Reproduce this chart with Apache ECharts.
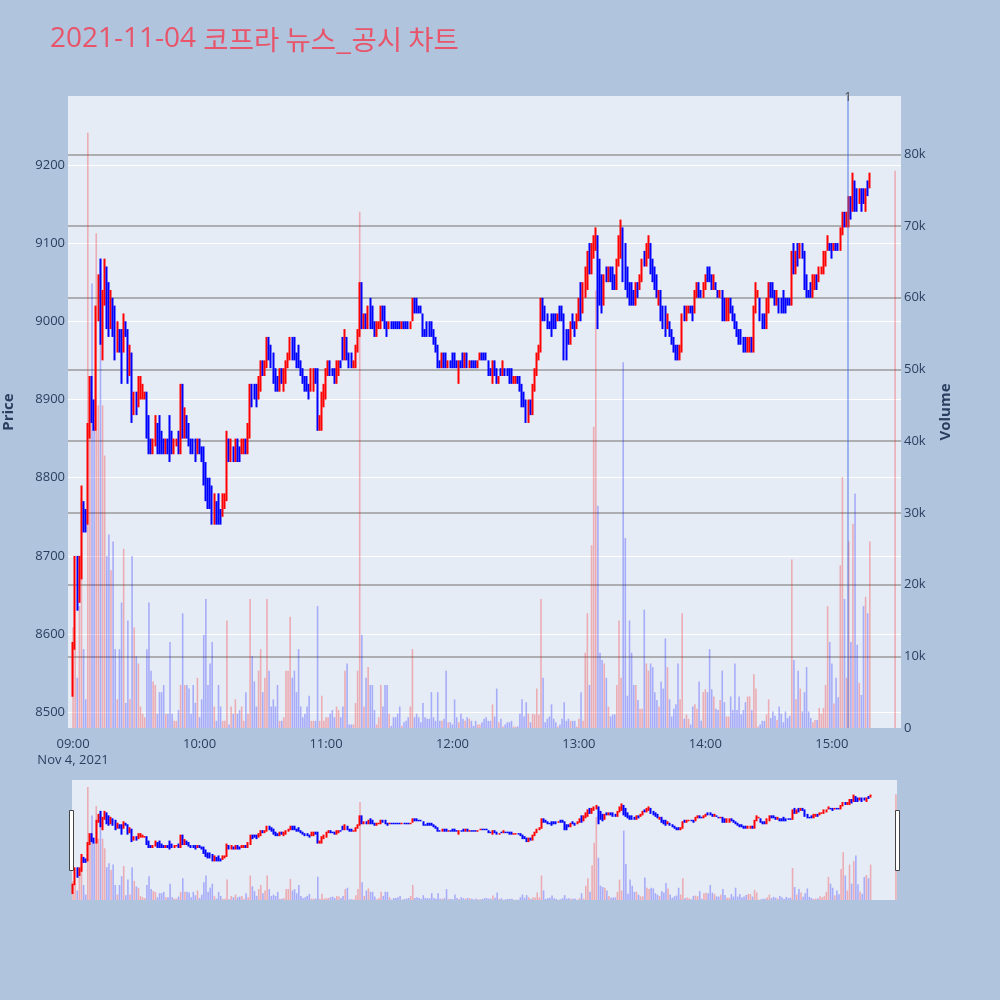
<!DOCTYPE html>
<html><head><meta charset="utf-8">
<script src="https://cdn.jsdelivr.net/npm/echarts@6/dist/echarts.min.js"></script>
<style>html,body{margin:0;padding:0;background:#b0c4de;}#chart{width:1000px;height:1000px;}</style>
</head><body><div id="chart"></div>
<script>
// ---------- DATA ----------
const titleDate = '2021-11-04 ';
const titleName = '코프라 뉴스_공시 차트';
const dateLabel = 'Nov 4, 2021';
const closingAuctionTime = '15:30';
const xTickLabels = ['09:00','10:00','11:00','12:00','13:00','14:00','15:00'];
const priceTicks = [8500,8600,8700,8800,8900,9000,9100,9200];
const volumeTicks = [0,10000,20000,30000,40000,50000,60000,70000,80000];
const newsTimes = ['15:07:40'];
const newsLabels = ['1'];

// one candle per minute from 09:00 (last entry = 15:30 closing auction)
const opens = [
8520,8590,8680,8640,8690,8760,8750,8740,8860,8920,
8890,8870,9010,9060,8980,9030,9070,9040,8990,9030,
9010,8960,8990,8980,8970,9000,8990,8940,8960,8880,
8910,8890,8910,8910,8900,8910,8870,8840,8830,8850,
8860,8860,8850,8840,8830,8840,8870,8850,8840,8840,
8850,8840,8910,8860,8880,8870,8850,8850,8840,8830,
8850,8840,8830,8810,8790,8790,8780,8750,8770,8770,
8760,8750,8770,8780,8850,8830,8840,8830,8850,8840,
8830,8840,8840,8840,8860,8920,8910,8910,8900,8920,
8940,8930,8950,8980,8970,8960,8940,8930,8920,8940,
8920,8930,8950,8960,8980,8970,8960,8970,8950,8940,
8930,8930,8920,8910,8920,8940,8940,8860,8870,8900,
8910,8930,8940,8940,8930,8920,8940,8950,8970,8960,
8980,8960,8950,8940,8950,8970,8990,9050,8990,9010,
8990,9030,9010,9000,8980,8990,9000,9020,9010,9000,
8990,9000,9000,9000,9000,9000,8990,9000,9000,9000,
8990,9000,9030,9030,9020,9020,9010,8990,9000,9000,
9000,8990,8980,8970,8950,8950,8960,8960,8940,8950,
8950,8960,8950,8930,8950,8960,8940,8960,8940,8950,
8950,8950,8940,8950,8960,8960,8960,8950,8940,8930,
8950,8940,8920,8940,8930,8940,8940,8940,8940,8920,
8920,8930,8930,8920,8910,8900,8880,8900,8890,8920,
8930,8950,8970,9030,9010,9010,9000,9000,9000,9010,
9000,9020,9020,9010,8960,8990,8980,9000,9000,8990,
9000,9030,9010,9040,9050,9080,9070,9090,9100,9110,
9060,9050,9030,9070,9050,9070,9070,9060,9050,9080,
9090,9120,9090,9060,9050,9040,9040,9020,9040,9040,
9060,9090,9070,9090,9100,9080,9070,9050,9030,9040,
9020,9010,8990,9000,8990,8980,8970,8970,8950,8960,
9010,9000,9010,9020,9020,9010,9030,9050,9040,9030,
9050,9060,9070,9060,9040,9050,9040,9030,9040,9020,
9000,9010,9030,9020,9010,9000,8990,8990,8980,8980,
8960,8960,8980,8970,9010,9030,9030,9010,9010,9000,
9020,9050,9040,9040,9020,9030,9020,9040,9020,9030,
9030,9030,9100,9070,9100,9080,9100,9090,9050,9040,
9040,9030,9050,9060,9050,9060,9070,9080,9090,9100,
9100,9090,9100,9100,9100,9110,9140,9120,9120,9160,
9150,9180,9170,9150,9170,9170,9140,9180,9170,
9190];
const closes = [
8590,8680,8640,8690,8760,8740,8740,8860,8920,8880,
8870,9010,9060,8980,9030,9070,9000,8990,9030,8990,
8960,8990,8970,8920,9000,8990,8930,8960,8880,8910,
8890,8920,8930,8920,8910,8860,8840,8830,8850,8880,
8850,8840,8830,8830,8850,8830,8830,8840,8850,8850,
8830,8920,8860,8880,8860,8850,8840,8830,8830,8850,
8840,8820,8800,8780,8770,8770,8750,8770,8750,8740,
8750,8770,8780,8860,8830,8840,8830,8850,8830,8820,
8840,8850,8830,8860,8920,8900,8900,8900,8920,8950,
8930,8950,8980,8960,8950,8930,8920,8920,8940,8930,
8940,8950,8960,8980,8960,8950,8950,8940,8930,8920,
8920,8910,8910,8930,8940,8930,8870,8870,8900,8920,
8940,8950,8930,8930,8920,8940,8950,8940,8960,8990,
8960,8950,8940,8950,8970,8990,9040,8990,9010,8990,
9020,9000,8990,8980,8990,9000,9020,9010,8990,8990,
9000,8990,8990,8990,8990,8990,9000,8990,8990,8990,
9000,9030,9020,9010,9010,9010,8980,8980,8990,8990,
8980,8980,8970,8940,8940,8960,8950,8940,8950,8940,
8940,8940,8940,8950,8940,8940,8960,8940,8950,8940,
8940,8940,8950,8960,8950,8950,8950,8940,8930,8950,
8930,8920,8930,8930,8950,8930,8930,8930,8930,8930,
8930,8920,8910,8900,8890,8880,8900,8890,8920,8940,
8950,8970,9030,9010,9000,9000,8990,8990,8990,9000,
9010,9010,9010,8950,8950,8980,9000,8990,8990,9000,
9020,9010,9040,9060,9090,9070,9100,9110,9110,9030,
9040,9030,9060,9050,9070,9060,9050,9040,9080,9100,
9110,9060,9040,9040,9030,9020,9020,9040,9030,9060,
9080,9070,9090,9100,9070,9060,9050,9040,9040,9010,
9000,8990,9010,8980,8980,8970,8960,8950,8960,9000,
9000,9010,9020,9010,9010,9030,9050,9030,9030,9050,
9060,9050,9050,9050,9050,9040,9030,9040,9000,9000,
9020,9030,9010,9010,8990,8990,8980,8970,8960,8960,
8980,8980,8970,9020,9040,9040,9010,9000,8990,9020,
9050,9040,9030,9030,9030,9010,9010,9010,9010,9020,
9020,9090,9060,9090,9080,9100,9080,9050,9030,9030,
9030,9050,9060,9050,9070,9070,9080,9090,9110,9090,
9090,9100,9090,9090,9120,9140,9120,9130,9160,9140,
9180,9150,9150,9170,9150,9150,9170,9160,9180,
9190];
const lows = [
8520,8580,8630,8640,8670,8730,8730,8740,8850,8870,
8860,8860,9000,8970,8950,9020,8990,8980,8990,8980,
8950,8960,8960,8920,8960,8980,8920,8930,8870,8880,
8880,8890,8900,8900,8900,8850,8830,8830,8830,8840,
8830,8830,8830,8830,8830,8830,8820,8830,8830,8840,
8830,8830,8850,8850,8850,8840,8830,8830,8820,8830,
8830,8820,8790,8770,8760,8760,8740,8740,8740,8740,
8740,8750,8760,8770,8820,8820,8820,8820,8820,8820,
8830,8830,8830,8830,8850,8890,8900,8890,8900,8910,
8930,8930,8940,8950,8940,8920,8910,8910,8910,8920,
8910,8920,8940,8950,8950,8950,8940,8940,8930,8920,
8910,8910,8900,8910,8910,8920,8860,8860,8860,8890,
8900,8930,8930,8930,8920,8920,8930,8940,8950,8950,
8950,8940,8940,8940,8940,8960,8980,8990,8990,8990,
8990,8990,8990,8980,8980,8990,8990,9000,8990,8980,
8990,8990,8990,8990,8990,8990,8990,8990,8990,8990,
8990,9000,9010,9010,9010,9010,8980,8980,8980,8980,
8980,8970,8960,8940,8940,8940,8940,8940,8940,8940,
8940,8940,8940,8920,8940,8940,8940,8940,8940,8940,
8940,8940,8940,8950,8950,8950,8950,8930,8930,8920,
8930,8920,8920,8930,8930,8930,8930,8920,8920,8920,
8920,8920,8910,8890,8890,8870,8870,8880,8880,8910,
8930,8950,8960,9000,9000,8990,8990,8980,8990,8990,
9000,9000,9000,8950,8950,8970,8970,8990,8980,8990,
9000,9000,9010,9030,9040,9060,9060,9080,9090,8990,
9020,9010,9020,9050,9050,9050,9040,9040,9040,9070,
9080,9050,9040,9030,9020,9020,9020,9020,9030,9040,
9050,9070,9070,9080,9060,9050,9040,9030,9020,9000,
8990,8980,8990,8980,8970,8960,8950,8950,8950,8960,
9000,9000,9010,9010,9000,9010,9030,9030,9030,9030,
9040,9050,9050,9040,9040,9040,9030,9030,9000,9000,
9000,9000,9010,9000,8990,8980,8970,8970,8960,8960,
8960,8960,8960,8960,9010,9030,9000,8990,8990,8990,
9010,9030,9030,9020,9020,9010,9010,9010,9010,9020,
9020,9020,9060,9060,9070,9080,9080,9040,9030,9030,
9030,9030,9040,9040,9050,9060,9060,9070,9090,9090,
9080,9090,9090,9090,9090,9110,9120,9120,9120,9130,
9140,9140,9140,9150,9140,9150,9140,9160,9170,
9190];
const highs = [
8590,8700,8700,8700,8790,8770,8760,8870,8930,8930,
8900,9020,9060,9080,9040,9080,9070,9050,9040,9030,
9020,9000,8990,8990,9010,9000,8990,8970,8960,8910,
8910,8930,8930,8920,8910,8910,8880,8850,8850,8880,
8870,8880,8860,8850,8850,8850,8880,8860,8850,8850,
8860,8920,8920,8890,8880,8870,8850,8850,8850,8850,
8850,8840,8840,8820,8800,8800,8790,8780,8770,8780,
8760,8780,8780,8860,8850,8850,8840,8850,8850,8840,
8850,8850,8850,8870,8920,8920,8920,8920,8930,8950,
8950,8950,8980,8980,8970,8960,8940,8930,8940,8940,
8940,8950,8960,8980,8980,8980,8960,8970,8950,8940,
8930,8930,8920,8940,8940,8940,8940,8880,8910,8920,
8940,8950,8950,8940,8940,8950,8950,8950,8980,8990,
8980,8960,8960,8950,8970,8990,9050,9050,9010,9010,
9020,9030,9020,9000,9000,9000,9020,9020,9020,9000,
9000,9000,9000,9000,9000,9000,9000,9000,9000,9000,
9000,9030,9030,9030,9020,9020,9010,8990,9000,9000,
9000,8990,8980,8970,8950,8960,8960,8960,8950,8950,
8960,8960,8950,8950,8950,8960,8960,8960,8950,8950,
8950,8950,8950,8960,8960,8960,8960,8950,8940,8950,
8950,8940,8930,8940,8950,8940,8940,8940,8940,8930,
8930,8930,8930,8920,8910,8900,8900,8900,8920,8940,
8960,8970,9030,9030,9020,9010,9000,9010,9010,9010,
9010,9020,9020,9010,8990,8990,9000,9010,9000,9010,
9030,9050,9050,9070,9090,9100,9100,9110,9120,9110,
9080,9060,9060,9070,9070,9070,9070,9060,9080,9110,
9130,9120,9100,9070,9050,9050,9040,9050,9050,9060,
9080,9090,9100,9110,9100,9080,9070,9060,9040,9040,
9020,9020,9010,9000,8990,8980,8970,8970,8970,9010,
9020,9020,9020,9020,9020,9040,9050,9050,9040,9050,
9060,9070,9070,9060,9060,9050,9040,9040,9040,9030,
9030,9030,9030,9020,9010,9000,8990,8990,8980,8980,
8980,8980,8980,9020,9050,9040,9030,9010,9010,9030,
9050,9050,9050,9040,9040,9030,9030,9040,9030,9030,
9030,9090,9100,9090,9100,9100,9100,9090,9060,9040,
9050,9060,9060,9060,9070,9070,9090,9090,9110,9100,
9100,9100,9100,9100,9120,9140,9140,9140,9160,9160,
9190,9180,9170,9170,9170,9170,9170,9180,9190,
9190];
const volumes = [
14000,11000,7000,17000,32000,11000,4000,83000,47000,62000,
42000,69000,45000,65500,45000,38000,24000,27000,22000,26000,
11000,4000,11000,17500,25000,3500,15000,4000,24000,14000,
10000,9000,3000,2000,1500,11000,17500,8000,6500,6000,
2000,5000,5000,6000,2000,2000,12000,2000,1000,1000,
2500,6000,16000,6000,6000,5500,2000,6000,3500,7000,
1500,4000,13000,18000,6000,9000,12000,3000,1000,6000,
3000,1000,1000,15000,500,3000,2000,4000,2000,2500,
3000,1000,5000,2000,18000,10000,6500,3000,8000,11000,
5000,7000,18000,8000,3000,4000,3000,6000,1000,1000,
1500,8000,8000,15500,7000,8000,5000,11000,3000,1500,
2000,3000,4500,1000,1000,1000,17000,1000,4500,1000,
1500,1500,2000,2500,1500,3000,2500,1500,3000,8000,
9000,500,500,500,3500,8000,72000,13000,3000,7000,
8500,6000,6000,2500,500,1500,6000,3000,6000,6000,
2000,300,1500,1500,2000,3000,300,800,1000,1500,
3000,11000,1500,2000,1500,800,3500,1500,1300,1300,
5000,1500,1000,5000,1000,1000,1300,8000,800,800,
500,4000,1500,800,2000,1300,1000,1500,1300,1000,
300,1000,500,500,800,1300,1500,1000,1000,3300,
1600,5500,800,1300,200,500,800,800,1000,200,
200,200,2000,4000,1600,3600,2000,800,2000,1900,
5500,1900,18000,7000,800,1300,1600,3300,1300,800,
200,500,1300,3600,1000,1300,1000,1000,1000,200,
1300,5000,1000,10500,16000,6000,25500,42000,61000,31000,
10500,9500,9000,7000,3000,1600,1900,1900,6000,15000,
7000,51000,26500,4500,15000,10500,6000,6000,3900,2700,
2700,16500,9000,8000,9000,8500,5000,3900,3000,6500,
5500,12500,8500,4000,1600,2700,3300,9000,4000,16000,
1300,1900,1300,500,3000,3300,2700,6500,1000,5000,
5400,5000,11000,5400,4400,2700,2500,3900,8000,3600,
1600,1600,4400,2500,9000,2500,4400,1900,2500,3600,
4400,4400,2500,7500,5500,200,500,1000,1000,1900,
4000,1400,2300,1700,1100,3000,2000,800,2300,1400,
1700,23500,9500,4000,8000,5500,2300,5000,8500,2300,
1400,800,1100,1100,2800,2000,2800,6000,17000,12000,
9000,3400,7000,4300,22700,35000,18000,7000,26000,12000,
28500,32700,11600,6300,4600,17000,18300,16000,26000,
77700];

// ---------- BUILD ----------
const FONT = '"Open Sans", "Noto Sans CJK KR", sans-serif';
const TXT = '#2a3f5f';
const UP = '#ff0000', DOWN = '#0000ff';
const UP_VOL = 'rgba(255,0,0,0.27)', DOWN_VOL = 'rgba(0,0,255,0.27)';

const toMin = t => { const p = t.split(':').map(Number); return (p[0] - 9) * 60 + p[1] + (p[2] || 0) / 60; };
const pad = n => (n < 10 ? '0' : '') + n;
const minLabel = v => pad(9 + Math.floor(v / 60)) + ':' + pad(Math.round(v % 60));

const n = opens.length;
const times = opens.map((_, i) => i < n - 1 ? minLabel(i) : closingAuctionTime);
const xs = times.map(toMin);
const candleData = xs.map((x, i) => [x, opens[i], closes[i], lows[i], highs[i]]);
const volData = xs.map((x, i) => ({ value: [x, volumes[i]], itemStyle: { color: closes[i] >= opens[i] ? UP_VOL : DOWN_VOL } }));
const xTicks = xTickLabels.map(toMin);

const candleStyle = { color: UP, color0: DOWN, borderColor: UP, borderColor0: DOWN, borderColorDoji: UP, borderWidth: 2 };

const option = {
  animation: false,
  backgroundColor: '#b0c4de',
  textStyle: { fontFamily: FONT },
  title: {
    text: '{a|' + titleDate + '}{k|' + titleName + '}',
    left: 50, top: 25, padding: 0,
    textStyle: {
      fontWeight: 'normal',
      rich: {
        a: { fontFamily: FONT, fontSize: 28, fontWeight: 'normal', color: '#e8546a', verticalAlign: 'bottom' },
        k: { fontFamily: '"Noto Sans CJK KR", sans-serif', fontSize: 27.5, fontWeight: 'normal', color: '#e8546a', verticalAlign: 'bottom' }
      }
    }
  },
  grid: [
    { left: 68, top: 96, width: 833, height: 632, show: true, backgroundColor: '#e5ecf6', borderWidth: 0, containLabel: false, outerBoundsMode: 'none' },
    { left: 72, top: 780, width: 825, height: 120, show: true, backgroundColor: '#e5ecf6', borderWidth: 0, containLabel: false, outerBoundsMode: 'none' }
  ],
  xAxis: [
    { type: 'value', gridIndex: 0, min: -2.4, max: 392.8,
      axisLine: { show: false }, axisTick: { show: false, customValues: xTicks }, splitLine: { show: false },
      axisLabel: { customValues: xTicks, color: TXT, fontSize: 13, margin: 8, lineHeight: 16, fontFamily: FONT,
        formatter: v => minLabel(v) + (v === 0 ? '\n' + dateLabel : '') } },
    { type: 'value', gridIndex: 1, min: -0.5, max: 390.5, show: false }
  ],
  yAxis: [
    { type: 'value', gridIndex: 0, position: 'left', min: 8480, max: 9288,
      axisLine: { show: false }, axisTick: { show: false, customValues: priceTicks },
      axisLabel: { customValues: priceTicks, color: TXT, fontSize: 13, margin: 3, fontFamily: FONT, formatter: v => String(v) },
      splitLine: { show: true, lineStyle: { color: '#ffffff', width: 1 } },
      name: 'Price', nameLocation: 'middle', nameGap: 52, nameRotate: 90,
      nameTextStyle: { color: TXT, fontSize: 15, fontWeight: 'bold', fontFamily: FONT } },
    { type: 'value', gridIndex: 0, position: 'right', min: 0, max: 88140,
      axisLine: { show: false }, axisTick: { show: false, customValues: volumeTicks.slice(1) },
      axisLabel: { customValues: volumeTicks, color: TXT, fontSize: 13, margin: 3, fontFamily: FONT,
        formatter: v => v === 0 ? '0' : (v / 1000) + 'k' },
      splitLine: { show: true, lineStyle: { color: '#9a9a9a', width: 1.5 } },
      name: 'Volume', nameLocation: 'middle', nameGap: 37, nameRotate: 90,
      nameTextStyle: { color: TXT, fontSize: 15, fontWeight: 'bold', fontFamily: FONT } },
    { type: 'value', gridIndex: 1, min: 8480, max: 9288, show: false },
    { type: 'value', gridIndex: 1, min: 0, max: 88140, show: false }
  ],
  series: [
    { type: 'bar', name: 'Volume', xAxisIndex: 0, yAxisIndex: 1, data: volData, barWidth: 1.6, z: 1, silent: true },
    { type: 'candlestick', name: 'Price', xAxisIndex: 0, yAxisIndex: 0, data: candleData,
      encode: { x: 0, y: [1, 2, 3, 4] }, barWidth: 1, itemStyle: candleStyle, z: 2, silent: true },
    { type: 'line', xAxisIndex: 0, yAxisIndex: 0, data: [], z: 5, silent: true,
      markLine: { silent: true, symbol: ['none', 'none'], animation: false,
        lineStyle: { color: 'rgba(65,105,225,0.6)', width: 1.5, type: 'solid' },
        label: { show: true, position: 'end', distance: -8, color: '#444', fontSize: 12, fontFamily: FONT,
          formatter: p => newsLabels[p.dataIndex] },
        data: newsTimes.map(t => ({ xAxis: toMin(t) })) } },
    { type: 'bar', xAxisIndex: 1, yAxisIndex: 3, data: volData, barWidth: 1.6, z: 1, silent: true },
    { type: 'candlestick', xAxisIndex: 1, yAxisIndex: 2, data: candleData,
      encode: { x: 0, y: [1, 2, 3, 4] }, barWidth: 1, itemStyle: candleStyle, z: 2, silent: true }
  ],
  graphic: [
    { type: 'rect', shape: { x: 69.5, y: 810.5, width: 4, height: 60 }, style: { fill: '#ffffff', stroke: '#444', lineWidth: 1 }, z: 10 },
    { type: 'rect', shape: { x: 895.5, y: 810.5, width: 4, height: 60 }, style: { fill: '#ffffff', stroke: '#444', lineWidth: 1 }, z: 10 }
  ]
};
const chart = echarts.init(document.getElementById('chart'), null, { renderer: 'canvas' });
chart.setOption(option);
</script></body></html>
